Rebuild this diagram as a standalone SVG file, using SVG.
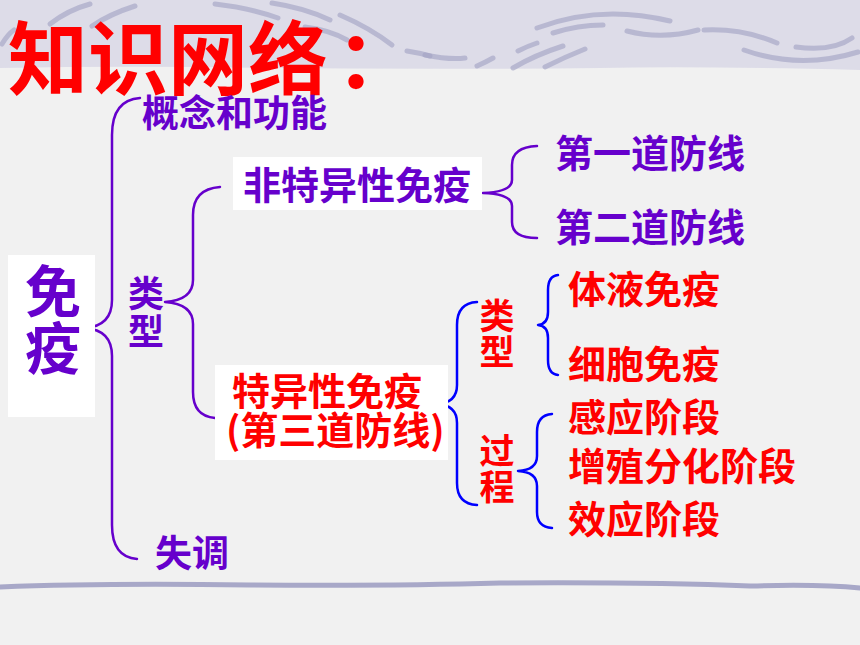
<svg xmlns="http://www.w3.org/2000/svg" width="860" height="645" viewBox="0 0 860 645">
  <style>
    .t { font-family: "Noto Sans CJK SC", "Noto Sans", sans-serif; font-weight: 700; }
    .p { fill: #6600cc; }
    .r { fill: #ff0000; }
    .bp { fill: none; stroke: #6600cc; stroke-width: 2.5; stroke-linecap: round; stroke-linejoin: round; }
    .bb { fill: none; stroke: #0000ff; stroke-width: 2.5; stroke-linecap: round; stroke-linejoin: round; }
    .w { fill: none; stroke: #a4a4c4; stroke-width: 5; stroke-linecap: round; opacity: 0.65; }
    .box { fill: #ffffff; }
  </style>

  <!-- background -->
  <rect x="0" y="0" width="860" height="645" fill="#f1f1f1"/>
  <path d="M0,0 H860 V70 Q700,66 600,68 Q400,70 200,67 Q100,66 0,68 Z" fill="#dddce8"/>
  <g id="decor">
    <path class="w" d="M50,24 Q68,10 90,4"/>
    <path class="w" d="M92,26 Q110,14 135,6"/>
    <path class="w" d="M2,44 Q8,34 14,30"/>
    <path class="w" d="M215,4 Q250,8 278,18"/>
    <path class="w" d="M272,3 Q305,8 330,20"/>
    <path class="w" d="M305,27 Q330,30 347,40"/>
    <path class="w" d="M340,15 Q370,28 392,45"/>
    <path class="w" d="M407,51 Q420,53 430,56"/>
    <path class="w" d="M425,55 Q450,60 465,58"/>
    <path class="w" d="M477,66 Q486,62 493,58"/>
    <path class="w" d="M518,51 Q528,46 537,43"/>
    <path class="w" d="M513,68 Q535,55 563,46"/>
    <path class="w" d="M545,67 Q565,57 585,49"/>
    <path class="w" d="M537,28 Q600,4 670,21"/>
    <path class="w" d="M553,33 Q578,25 603,25"/>
    <path class="w" d="M627,31 Q662,40 698,30"/>
    <path class="w" d="M704,30 Q742,28 777,43"/>
    <path class="w" d="M796,47 Q832,52 852,38"/>
    <path class="w" d="M744,50 Q800,70 858,52"/>
    <path d="M0,587 Q100,583 250,585 Q400,586 500,583 Q650,582 750,586 Q820,584 860,588" fill="none" stroke="#a8a8c8" stroke-width="5" stroke-linecap="round"/>
  </g>

  <!-- title -->
  <text id="title" class="t r" x="8" y="88" font-size="80">知识网络<tspan dx="8">：</tspan></text>

  <!-- connectors -->
  <g id="connectors">
    <path class="bp" d="M140,98 Q112,100 112,135 L112,300 Q112,326 85,328 Q112,330 112,356 L112,525 Q112,557 137,559"/>
    <path class="bp" d="M220,187 Q193,189 193,215 L193,280 Q193,300 165,302 Q193,304 193,324 L193,392 Q193,416 215,418"/>
    <path class="bp" d="M537,146 Q512,147 512,165 L512,180 Q512,192 483,193 Q512,194 512,206 L512,222 Q512,238 537,238"/>
    <path class="bb" d="M477,302 Q457,303 457,325 L457,385 Q457,403 437,404 Q457,405 457,423 L457,483 Q457,504 477,505"/>
    <path class="bb" d="M558,275 Q548,276 548,290 L548,312 Q548,324 538,325 Q548,326 548,338 L548,360 Q548,374 558,375"/>
    <path class="bb" d="M552,414 Q537,415 537,432 L537,456 Q537,470 518,471 Q537,472 537,486 L537,512 Q537,527 552,528"/>
  </g>

  <!-- nodes -->
  <g id="n-mianyi">
    <rect class="box" x="8" y="255" width="87" height="162"/>
    <text class="t p" x="53" y="312" font-size="56" text-anchor="middle">免</text>
    <text class="t p" x="53" y="369" font-size="56" text-anchor="middle">疫</text>
  </g>
  <g id="n-gainian">
    <text class="t p" x="142" y="127" font-size="37">概念和功能</text>
  </g>
  <g id="n-leixing1">
    <text class="t p" x="146" y="307" font-size="36" text-anchor="middle">类</text>
    <text class="t p" x="146" y="345" font-size="36" text-anchor="middle">型</text>
  </g>
  <g id="n-shitiao">
    <text class="t p" x="155" y="567" font-size="37">失调</text>
  </g>
  <g id="n-feite">
    <rect class="box" x="233" y="157" width="249" height="53"/>
    <text class="t p" x="243" y="199" font-size="38">非特异性免疫</text>
  </g>
  <g id="n-di1">
    <text class="t p" x="555" y="167" font-size="38">第一道防线</text>
  </g>
  <g id="n-di2">
    <text class="t p" x="555" y="241" font-size="38">第二道防线</text>
  </g>
  <g id="n-teyi">
    <rect class="box" x="215" y="365" width="233" height="95"/>
    <text class="t r" x="232" y="405" font-size="38">特异性免疫</text>
    <text class="t r" x="226" y="444" font-size="38">(第三道防线)</text>
  </g>
  <g id="n-leixing2">
    <text class="t r" x="497" y="329" font-size="35" text-anchor="middle">类</text>
    <text class="t r" x="497" y="365" font-size="35" text-anchor="middle">型</text>
  </g>
  <g id="n-guocheng">
    <text class="t r" x="497" y="464" font-size="35" text-anchor="middle">过</text>
    <text class="t r" x="497" y="500" font-size="35" text-anchor="middle">程</text>
  </g>
  <g id="n-tiye">
    <text class="t r" x="568" y="303" font-size="38">体液免疫</text>
  </g>
  <g id="n-xibao">
    <text class="t r" x="568" y="378" font-size="38">细胞免疫</text>
  </g>
  <g id="n-ganying">
    <text class="t r" x="568" y="431" font-size="38">感应阶段</text>
  </g>
  <g id="n-zengzhi">
    <text class="t r" x="568" y="480" font-size="38">增殖分化阶段</text>
  </g>
  <g id="n-xiaoying">
    <text class="t r" x="568" y="533" font-size="38">效应阶段</text>
  </g>
</svg>
